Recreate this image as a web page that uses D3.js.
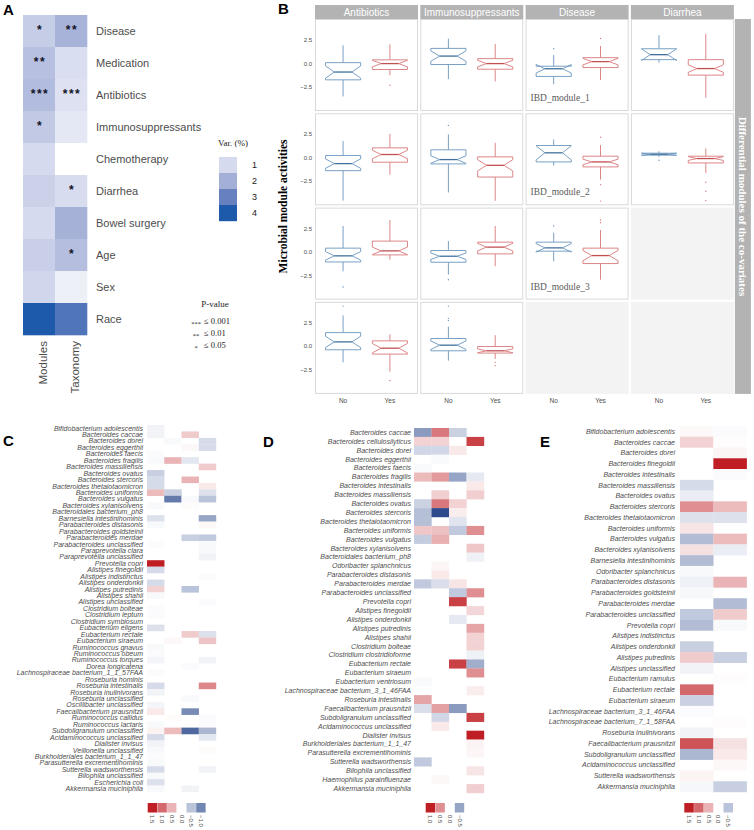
<!DOCTYPE html>
<html><head><meta charset="utf-8">
<script src="https://cdn.jsdelivr.net/npm/d3@7"></script>
<style>body{margin:0;background:#fff}svg{display:block}</style>
</head><body>
<svg id="chart" width="754" height="830"></svg>
<script>
// ---------------- Panel A data ----------------
const covariatesA = ["Disease","Medication","Antibiotics","Immunosuppressants","Chemotherapy","Diarrhea","Bowel surgery","Age","Sex","Race"];
const dataTypesA = ["Modules","Taxonomy"];
const varModules  = [1.3, 1.6, 1.7, 1.4, 1.0, 1.2, 1.0, 1.25, 1.1, 4.0];
const varTaxonomy = [1.9, 0.9, 0.8, 0.65, 0, 0.95, 1.95, 1.65, 0.4, 3.3];
const starsModules  = ["*","**","***","*","","","","","",""];
const starsTaxonomy = ["**","","***","","","*","","*","",""];
const varLegend = [1,2,3,4];
const pStars = ["***","**","*"];
const pTexts = ["\u2264 0.001","\u2264 0.01","\u2264 0.05"];

// ---------------- Panel B data ----------------
const facetCols = ["Antibiotics","Immunosuppressants","Disease","Diarrhea"];
const moduleRows = ["IBD_module_1","IBD_module_2","IBD_module_3","IBD_module_4"];
const groupsB = ["No","Yes"];
const yTicksB = [-2.5, 0, 2.5];
// [lowWhisker, Q1, median, Q3, highWhisker, notchHalf]
const boxNo = [
  [[-3.5,-1.73,-0.9,0.1,1.95,0.65],[-1.65,-0.1,0.8,1.62,2.65,0.55],[-2.2,-1.37,-0.55,-0.28,0.9,0.45],[0.1,0.42,0.95,1.58,3.03,0.62]],
  [[-4.55,-1.36,-0.61,0.25,1.79,0.5],[-3.68,-0.64,-0.18,0.86,2.5,0.4],[-0.82,-0.43,0.54,1.32,1.96,0.75],[0.1,0.29,0.39,0.5,0.71,0.12]],
  [[-2.04,-1.04,-0.39,0.43,2.79,0.45],[-2.39,-1.07,-0.43,0.18,1.18,0.35],[-0.96,0.11,0.46,1.07,2.07,0.45],null],
  [[-1.69,-0.35,0.49,1.48,3.31,0.6],[-1.51,-0.46,0.14,0.85,2.11,0.45],null,null]
];
const boxYes = [
  [[-1.25,-0.63,0,0.4,2.05,0.35],[-1.9,-0.6,0,0.53,2.1,0.35],[-1.76,-0.42,0.21,0.63,1.87,0.35],[-3.63,-1.23,-0.53,0.42,3.17,0.4]],
  [[-1.79,-0.46,0.36,1.07,2.57,0.45],[-4.57,-2.04,-0.79,0.11,1.61,0.6],[-2.32,-0.96,-0.43,0.18,1.36,0.3],[-1.61,-0.54,-0.07,0.18,1.0,0.2]],
  [[-0.79,-0.29,0.14,1.18,3.43,0.4],[-1.5,-0.18,0.54,1.07,2.79,0.4],[-2.93,-1.21,-0.36,0.43,2.36,0.55],null],
  [[-2.68,-0.81,-0.18,0.6,1.3,0.5],[-1.34,-0.7,-0.46,0.0,1.2,0.2],null,null]
];
const outNo = [
  [[],[],[1.58],[]],
  [[],[3.46],[],[-0.25]],
  [[-3.71],[-2.93],[2.79],[]],
  [[4.3],[2.78,3.0,4.3],[],[]]
];
const outYes = [
  [[-2.3],[],[2.68],[]],
  [[],[],[2.2,-2.85,-4.6],[-2.6,-3.55,-4.55]],
  [[],[],[3.43,3.14],[]],
  [[-3.63],[-1.69,-2.04],[],[]]
];

// ---------------- Panel C data ----------------
const taxaC = ["Bifidobacterium adolescentis","Bacteroides caccae","Bacteroides dorei","Bacteroides eggerthii","Bacteroides faecis","Bacteroides fragilis","Bacteroides massiliensis","Bacteroides ovatus","Bacteroides stercoris","Bacteroides thetaiotaomicron","Bacteroides uniformis","Bacteroides vulgatus","Bacteroides xylanisolvens","Bacteroidales bacterium_ph8","Barnesiella intestinihominis","Parabacteroides distasonis","Parabacteroides goldsteinii","Parabacteroides merdae","Parabacteroides unclassified","Paraprevotella clara","Paraprevotella unclassified","Prevotella copri","Alistipes finegoldii","Alistipes indistinctus","Alistipes onderdonkii","Alistipes putredinis","Alistipes shahii","Alistipes unclassified","Clostridium bolteae","Clostridium leptum","Clostridium symbiosum","Eubacterium eligens","Eubacterium rectale","Eubacterium siraeum","Ruminococcus gnavus","Ruminococcus obeum","Ruminococcus torques","Dorea longicatena","Lachnospiraceae bacterium_1_1_57FAA","Roseburia hominis","Roseburia intestinalis","Roseburia inulinivorans","Roseburia unclassified","Oscillibacter unclassified","Faecalibacterium prausnitzii","Ruminococcus callidus","Ruminococcus lactaris","Subdoligranulum unclassified","Acidaminococcus unclassified","Dialister invisus","Veillonella unclassified","Burkholderiales bacterium_1_1_47","Parasutterella excrementihominis","Sutterella wadsworthensis","Bilophila unclassified","Escherichia coli","Akkermansia muciniphila"];
const valsC = [
  [-0.1,0,0,0],[-0.1,0,0.35,0],[0,-0.05,0,-0.3],[0,0,0.05,-0.3],[-0.03,0,0,0],[-0.05,0.5,-0.2,0],[0,0,0,0.35],[-0.4,0,0,0],[-0.3,0,0.5,0],[-0.3,0,0,0.15],
  [0.45,-0.4,0,-0.25],[0,-1.1,-0.05,-0.5],[-0.05,0,0.03,0],[0,0,0,0],[-0.25,0,0,-0.75],[-0.05,0,0,0.05],[0,0,0,0],[0,0,-0.4,-0.45],[-0.03,0,0,-0.05],[0,0,0,-0.05],
  [0,0,0,-0.1],[1.6,0,0,0],[-0.3,0,0,0],[0,0,0,-0.03],[-0.3,0,0,0],[0.3,0,-0.5,0],[-0.05,0,0,0],[0,0,0,-0.03],[-0.03,0,0,0],[-0.03,0,0,0],
  [0,0,0,0],[-0.25,0,0,0],[0,0,0.35,-0.25],[0,0.05,0,0.4],[-0.05,0,0,0],[-0.03,0,0,0],[-0.08,0,0,-0.1],[0,0,-0.03,0],[-0.03,0,0,0],[0,0,0,0],
  [-0.3,0,0,0.8],[-0.1,0,0,0],[0,0,-0.05,0],[-0.08,0,0,0],[0.15,0,-0.95,0],[0,0.03,0,-0.03],[-0.05,0,0,-0.03],[0.08,0.45,-1.25,-0.6],[-0.3,0,0,-0.2],[-0.1,0,0,0],
  [-0.05,0,0,0.03],[-0.03,0,0,0],[-0.05,0,0,0],[-0.3,0,0,-0.1],[-0.05,0,0,0],[-0.25,0,0,0],[-0.05,0,-0.1,0]
];
const legendC = [1.5,1.0,0.5,0.0,-0.5,-1.0];

// ---------------- Panel D data ----------------
const taxaD = ["Bacteroides caccae","Bacteroides cellulosilyticus","Bacteroides dorei","Bacteroides eggerthii","Bacteroides faecis","Bacteroides fragilis","Bacteroides intestinalis","Bacteroides massiliensis","Bacteroides ovatus","Bacteroides stercoris","Bacteroides thetaiotaomicron","Bacteroides uniformis","Bacteroides vulgatus","Bacteroides xylanisolvens","Bacteroidales bacterium_ph8","Odoribacter splanchnicus","Parabacteroides distasonis","Parabacteroides merdae","Parabacteroides unclassified","Prevotella copri","Alistipes finegoldii","Alistipes onderdonkii","Alistipes putredinis","Alistipes shahii","Clostridium bolteae","Clostridium clostridioforme","Eubacterium rectale","Eubacterium siraeum","Eubacterium ventriosum","Lachnospiraceae bacterium_3_1_46FAA","Roseburia intestinalis","Faecalibacterium prausnitzii","Subdoligranulum unclassified","Acidaminococcus unclassified","Dialister invisus","Burkholderiales bacterium_1_1_47","Parasutterella excrementihominis","Sutterella wadsworthensis","Bilophila unclassified","Haemophilus parainfluenzae","Akkermansia muciniphila"];
const valsD = [
  [-0.55,0.6,-0.25,0],[0.2,0.2,0,0.85],[-0.22,-0.22,0.1,0],[0,-0.03,0,0],[-0.03,0,0,0],[0.3,0.45,-0.5,-0.12],[0,0,0,0.1],[0,0.22,0,0.22],[-0.25,0.6,0.2,0],[-0.35,-1.0,0.08,0],
  [-0.35,0,-0.15,0],[0.25,0.28,-0.3,0.5],[-0.28,0.35,0,0],[0,0,0,0.25],[0,0,0,-0.08],[0,0.04,0,0],[0,0.1,0,0],[-0.3,-0.18,0.12,0],[0,0,-0.3,0.5],[0,0,0.85,0],
  [0,0,0,0.18],[0,0,-0.12,0],[0,0,0,0.4],[0,0,0,0.2],[0,0,0,0.2],[0,0,0,-0.08],[0,0,0.85,-0.45],[0,0,0,0.5],[-0.03,0,0,0],[0,0,0,0.08],
  [0.4,0,0,0],[-0.18,0.42,-0.55,0],[0,-0.22,0,0.85],[0,0.1,0,0],[0,0,0,1.1],[0,0,0,0.05],[0,0,0,0.04],[-0.3,0,0,0],[0,0,0,0.12],[0,0.03,0,0],[0,0,0,0.22]
];
const legendD = [1.0,0.5,0.0,-0.5];

// ---------------- Panel E data ----------------
const taxaE = ["Bifidobacterium adolescentis","Bacteroides caccae","Bacteroides dorei","Bacteroides finegoldii","Bacteroides intestinalis","Bacteroides massiliensis","Bacteroides ovatus","Bacteroides stercoris","Bacteroides thetaiotaomicron","Bacteroides uniformis","Bacteroides vulgatus","Bacteroides xylanisolvens","Barnesiella intestinihominis","Odoribacter splanchnicus","Parabacteroides distasonis","Parabacteroides goldsteinii","Parabacteroides merdae","Parabacteroides unclassified","Prevotella copri","Alistipes indistinctus","Alistipes onderdonkii","Alistipes putredinis","Alistipes unclassified","Eubacterium ramulus","Eubacterium rectale","Eubacterium siraeum","Lachnospiraceae bacterium_3_1_46FAA","Lachnospiraceae bacterium_7_1_58FAA","Roseburia inulinivorans","Faecalibacterium prausnitzii","Subdoligranulum unclassified","Acidaminococcus unclassified","Sutterella wadsworthensis","Akkermansia muciniphila"];
const valsE = [
  [0.05,-0.03],[0.3,0.02],[0,0.07],[0,1.5],[0,-0.03],[-0.3,0],[-0.15,0],[0.75,0.45],[-0.25,-0.25],[0.18,0],
  [-0.55,0.45],[0.2,-0.15],[-0.55,0],[-0.05,0],[-0.12,0.5],[-0.06,0],[0,-0.55],[-0.45,0.35],[-0.55,-0.05],[0,0],
  [-0.4,0],[0.35,-0.4],[-0.1,0],[0,0.02],[1.0,0],[-0.38,0],[-0.03,0],[0,0.02],[-0.1,0],[1.15,0.2],
  [-0.6,0.15],[0,0.05],[0.08,0],[-0.07,-0.4]
];
const legendE = [1.5,1.0,0.5,0.0,-0.5];

// ================= drawing =================
const svg = d3.select("#chart");
const SANS = "'Liberation Sans', Arial, Helvetica, sans-serif";
const SERIF = "'Liberation Serif', 'Times New Roman', serif";
const TXT = "#4d4d4d";

function panelLetter(t, x, y) {
  svg.append("text").attr("x", x).attr("y", y).text(t)
    .attr("font-family", SANS).attr("font-weight", "bold").attr("font-size", 15).attr("fill", "#000");
}

// ---------- Panel A ----------
(function(){
  const g = svg.append("g");
  const x = d3.scaleBand().domain(dataTypesA).range([23, 87]);
  const y = d3.scaleBand().domain(covariatesA).range([15, 335]);
  const col = d3.scaleLinear().domain([0,1,2,3,4]).range(["#ffffff","#d5daee","#a3afd7","#6680c0","#1e5aab"]).clamp(true);
  const vals = {Modules: varModules, Taxonomy: varTaxonomy};
  const stars = {Modules: starsModules, Taxonomy: starsTaxonomy};
  dataTypesA.forEach(dt => {
    covariatesA.forEach((cv, i) => {
      g.append("rect").attr("x", x(dt)).attr("y", y(cv)).attr("width", x.bandwidth() + 0.3).attr("height", y.bandwidth() + 0.3)
        .attr("fill", col(vals[dt][i]));
      if (stars[dt][i]) {
        g.append("text").attr("x", x(dt) + x.bandwidth()/2 + 1).attr("y", y(cv) + y.bandwidth()/2 + 3)
          .attr("text-anchor", "middle").attr("font-family", SANS).attr("font-size", 12).attr("font-weight", "bold")
          .attr("letter-spacing", 1.5).attr("fill", "#141428").text(stars[dt][i]);
      }
    });
    g.append("text").attr("transform", `translate(${x(dt) + x.bandwidth()/2 + 4},341) rotate(-90)`)
      .attr("text-anchor", "end").attr("dy", "0.35em").attr("font-family", SANS).attr("font-size", 11.5)
      .attr("fill", TXT).text(dt);
  });
  covariatesA.forEach(cv => {
    g.append("text").attr("x", 96).attr("y", y(cv) + y.bandwidth()/2 + 4).attr("font-family", SANS)
      .attr("font-size", 11).attr("fill", TXT).text(cv);
  });
  g.append("text").attr("x", 218).attr("y", 146).attr("font-family", SERIF).attr("font-size", 9).attr("fill", "#222").text("Var. (%)");
  const ly = d3.scaleBand().domain(varLegend).range([157, 221]);
  varLegend.forEach(v => {
    g.append("rect").attr("x", 219).attr("y", ly(v)).attr("width", 18).attr("height", ly.bandwidth() + 0.2).attr("fill", col(v));
    g.append("text").attr("x", 252).attr("y", ly(v) + ly.bandwidth()/2 + 3.3).attr("font-family", SANS)
      .attr("font-size", 9).attr("fill", "#222").text(v);
  });
  g.append("text").attr("x", 215).attr("y", 307).attr("text-anchor", "middle").attr("font-family", SERIF)
    .attr("font-size", 9).attr("fill", "#222").text("P-value");
  pStars.forEach((s, i) => {
    const yy = 324 + i * 12;
    g.append("text").attr("x", 196).attr("y", yy + 2).attr("text-anchor", "middle").attr("font-family", SERIF)
      .attr("font-size", 6.5).attr("fill", "#222").text(s);
    g.append("text").attr("x", 204).attr("y", yy).attr("font-family", SERIF)
      .attr("font-size", 8.5).attr("fill", "#222").text(pTexts[i]);
  });
  panelLetter("A", 3, 15);
})();

// ---------- Panel B ----------
(function(){
  const g = svg.append("g");
  const colW = 103, colStep = 105.3, col0 = 315;
  const rowH = 92, rowStep = 94.3, row0 = 19;
  const blue = "#6a96be", blueMed = "#41719c", red = "#d8787b", redMed = "#c24f52";
  facetCols.forEach((fc, c) => {
    const px = col0 + c * colStep;
    g.append("rect").attr("x", px).attr("y", 5).attr("width", colW).attr("height", 14.3).attr("fill", "#b3b3b3");
    g.append("text").attr("x", px + colW/2).attr("y", 15.6).attr("text-anchor", "middle").attr("font-family", SANS)
      .attr("font-size", 10).attr("fill", "#fff").text(fc);
    const xs = d3.scalePoint().domain(groupsB).range([px, px + colW]).padding(0.6);
    const hw = xs.step() * 0.75 / 2;
    moduleRows.forEach((mr, r) => {
      const py = row0 + r * rowStep;
      const ys = d3.scaleLinear().domain([-5.05, 4.75]).range([py + rowH, py]);
      const sNo = boxNo[r][c], sYes = boxYes[r][c];
      if (!sNo) {
        g.append("rect").attr("x", px).attr("y", py).attr("width", colW).attr("height", rowH).attr("fill", "#f3f3f3");
        return;
      }
      g.append("rect").attr("x", px + 0.5).attr("y", py + 0.5).attr("width", colW - 1).attr("height", rowH - 1)
        .attr("fill", "#fff").attr("stroke", "#d9d9d9").attr("stroke-width", 1);
      [[sNo, outNo[r][c], "No", blue, blueMed], [sYes, outYes[r][c], "Yes", red, redMed]].forEach(([s, outs, grp, cl, cm]) => {
        const cx = xs(grp);
        const [lo, q1, md, q3, hi, nh] = s;
        const ind = hw / 2;
        g.append("line").attr("x1", cx).attr("x2", cx).attr("y1", ys(q3)).attr("y2", ys(hi)).attr("stroke", cl).attr("stroke-width", 0.9);
        g.append("line").attr("x1", cx).attr("x2", cx).attr("y1", ys(q1)).attr("y2", ys(lo)).attr("stroke", cl).attr("stroke-width", 0.9);
        const pts = [[cx-hw, q3],[cx-hw, md+nh],[cx-hw+ind, md],[cx-hw, md-nh],[cx-hw, q1],[cx+hw, q1],[cx+hw, md-nh],[cx+hw-ind, md],[cx+hw, md+nh],[cx+hw, q3]]
          .map(p => [p[0], ys(p[1])]);
        g.append("path").attr("d", d3.line()(pts) + "Z").attr("fill", "#fff").attr("stroke", cl).attr("stroke-width", 0.9);
        g.append("line").attr("x1", cx - hw + ind).attr("x2", cx + hw - ind).attr("y1", ys(md)).attr("y2", ys(md))
          .attr("stroke", cm).attr("stroke-width", 1.3);
        outs.forEach(o => {
          g.append("circle").attr("cx", cx).attr("cy", ys(o)).attr("r", 0.7).attr("fill", cl);
        });
      });
      if (c === 0) {
        yTicksB.forEach(t => {
          g.append("text").attr("x", 312).attr("y", ys(t) + 2).attr("text-anchor", "end").attr("font-family", SANS)
            .attr("font-size", 6).attr("fill", TXT).text(d3.format(".1f")(t));
        });
      }
      if (c === 2) {
        g.append("text").attr("x", px + 5).attr("y", py + rowH - 10).attr("font-family", SERIF).attr("font-size", 9.5)
          .attr("fill", "#5a5a5a").text(mr);
      }
    });
    groupsB.forEach(gr => {
      g.append("text").attr("x", xs(gr)).attr("y", 403).attr("text-anchor", "middle").attr("font-family", SANS)
        .attr("font-size", 6.5).attr("fill", TXT).text(gr);
    });
  });
  const stripX = col0 + 3 * colStep + colW + 1;
  g.append("rect").attr("x", stripX).attr("y", row0).attr("width", 16).attr("height", 3 * rowStep + rowH).attr("fill", "#b3b3b3");
  g.append("text").attr("transform", `translate(${stripX + 8},${row0 + (3 * rowStep + rowH)/2}) rotate(90)`)
    .attr("text-anchor", "middle").attr("dy", "0.35em").attr("font-family", SERIF).attr("font-weight", "bold")
    .attr("font-size", 11).attr("fill", "#fff").text("Differential modules of the co-variates");
  g.append("text").attr("transform", `translate(287,${row0 + (3 * rowStep + rowH)/2}) rotate(-90)`)
    .attr("text-anchor", "middle").attr("font-family", SERIF).attr("font-weight", "bold")
    .attr("font-size", 11.5).attr("fill", "#000").text("Microbial module activities");
  panelLetter("B", 278, 14);
})();

// ---------- Panels C, D, E ----------
function heatPanel(taxa, vals, x0, x1, y0, y1, labelX, m, legend, legX, legW) {
  const g = svg.append("g");
  const ncol = vals[0].length;
  const xs = d3.scaleBand().domain(d3.range(ncol)).range([x0, x1]);
  const ys = d3.scaleBand().domain(taxa).range([y0, y1]);
  const col = d3.scaleLinear().domain([-m, 0, m]).range(["#2c4a8c", "#ffffff", "#bf1e24"]).clamp(true);
  taxa.forEach((t, i) => {
    vals[i].forEach((v, j) => {
      if (v === 0) return;
      g.append("rect").attr("x", xs(j)).attr("y", ys(t)).attr("width", xs.bandwidth() + 0.2).attr("height", ys.bandwidth() + 0.2)
        .attr("fill", col(v));
    });
    g.append("text").attr("x", labelX).attr("y", ys(t) + ys.bandwidth()/2 + 2.4).attr("text-anchor", "end")
      .attr("font-family", SANS).attr("font-style", "italic").attr("font-size", 7).attr("fill", TXT).text(t);
  });
  const lx = d3.scaleBand().domain(legend).range([legX, legX + legW * legend.length]);
  legend.forEach(v => {
    g.append("rect").attr("x", lx(v)).attr("y", 803).attr("width", lx.bandwidth() - 0.3).attr("height", 9.5).attr("fill", col(v));
    g.append("text").attr("transform", `translate(${lx(v) + lx.bandwidth()/2},815) rotate(90)`)
      .attr("dy", "0.35em").attr("font-family", SANS).attr("font-size", 6).attr("fill", TXT).text(d3.format(".1f")(v));
  });
}
heatPanel(taxaC, valsC, 147, 216, 425, 792, 143, 1.5, legendC, 147.7, 9.7);
heatPanel(taxaD, valsD, 414, 484, 428, 793, 411, 1.0, legendD, 425.7, 9.7);
heatPanel(taxaE, valsE, 680, 746.7, 426, 792, 675, 1.5, legendE, 684.3, 9.8);
panelLetter("C", 3, 446);
panelLetter("D", 263, 447);
panelLetter("E", 540, 447);
</script>
</body></html>
